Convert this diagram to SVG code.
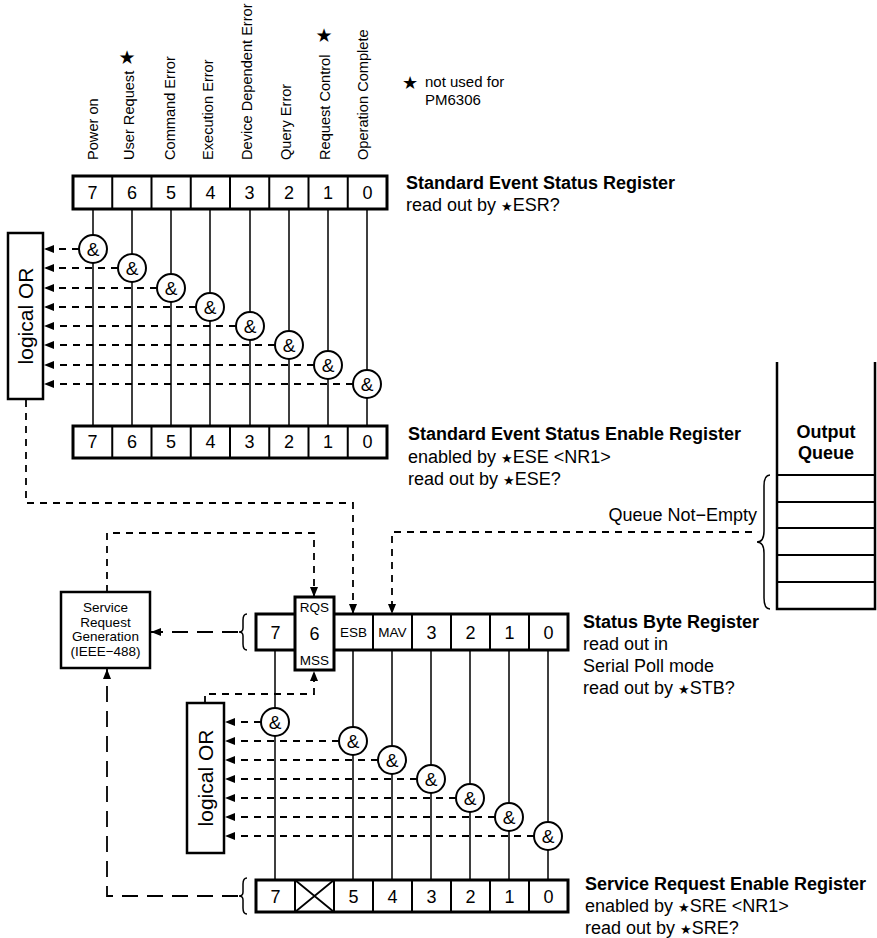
<svg xmlns="http://www.w3.org/2000/svg" width="877" height="938" viewBox="0 0 877 938">
<style>
text{font-family:"Liberation Sans",Arial,sans-serif;fill:#000}
.b{font-weight:bold;font-size:18px}
.r{font-size:18px}
.lab{font-size:14.6px}
.dg{font-size:18px;text-anchor:middle}
.sm{font-size:13.5px;text-anchor:middle}
.amp{font-size:19px;text-anchor:middle}
.st{font-family:"DejaVu Sans",sans-serif}
.reg{fill:#fff;stroke:#000;stroke-width:3}
.dv{stroke:#000;stroke-width:2}
.w{stroke:#000;stroke-width:1.5;fill:none}
.d{stroke:#000;stroke-width:1.8;stroke-dasharray:7 6;fill:none}
.ld{stroke:#000;stroke-width:1.8;stroke-dasharray:16 9;fill:none}
.g{fill:#fff;stroke:#000;stroke-width:2}
.box{fill:#fff;stroke:#000;stroke-width:2.5}
.srg{font-size:13.5px;text-anchor:middle}
</style>
<defs>
<marker id="ah" markerUnits="userSpaceOnUse" markerWidth="10" markerHeight="8" refX="10" refY="4" orient="auto"><path d="M0,0 L10,4 L0,8 z" fill="#000"/></marker>
</defs>

<!-- column labels -->
<g id="labels">
<text class="lab" transform="translate(98,160) rotate(-90)">Power on</text>
<text class="lab" transform="translate(134,160) rotate(-90)">User Request</text>
<text class="lab" transform="translate(175,160) rotate(-90)">Command Error</text>
<text class="lab" transform="translate(213,160) rotate(-90)">Execution Error</text>
<text class="lab" transform="translate(252,160) rotate(-90)">Device Dependent Error</text>
<text class="lab" transform="translate(291,160) rotate(-90)">Query Error</text>
<text class="lab" transform="translate(330,160) rotate(-90)">Request Control</text>
<text class="lab" transform="translate(368,160) rotate(-90)">Operation Complete</text>
<text class="st" x="127" y="64" font-size="19" text-anchor="middle">★</text>
<text class="st" x="324" y="42" font-size="19" text-anchor="middle">★</text>
<text class="st" x="410" y="89" font-size="18" text-anchor="middle">★</text>
<text x="425" y="87" font-size="15">not used for</text>
<text x="425" y="105" font-size="15">PM6306</text>
</g>

<!-- connectors -->
<g id="connectors">
<path class="w" d="M93,209V426 M132,209V426 M171,209V426 M210,209V426 M250,209V426 M289,209V426 M328,209V426 M367,209V426"/>
<path class="d" marker-end="url(#ah)" d="M79,249H44"/>
<path class="d" marker-end="url(#ah)" d="M118,268H44"/>
<path class="d" marker-end="url(#ah)" d="M157,288H44"/>
<path class="d" marker-end="url(#ah)" d="M196,307H44"/>
<path class="d" marker-end="url(#ah)" d="M236,326H44"/>
<path class="d" marker-end="url(#ah)" d="M275,345H44"/>
<path class="d" marker-end="url(#ah)" d="M314,365H44"/>
<path class="d" marker-end="url(#ah)" d="M353,384H44"/>
<path class="d" marker-end="url(#ah)" d="M26,400V503H353V614"/>
<path class="d" marker-end="url(#ah)" d="M107,592V533H314V597"/>
<path class="d" marker-end="url(#ah)" d="M752,532H392V614"/>
<path class="d" marker-end="url(#ah)" d="M205,703V694H314V671"/>
<path class="ld" marker-end="url(#ah)" d="M238,632H151"/>
<path class="ld" marker-end="url(#ah)" d="M238,896H107V669"/>
<path class="w" d="M275,650V880 M353,650V880 M392,650V880 M431,650V880 M470,650V880 M509,650V880 M548,650V880"/>
<path class="d" marker-end="url(#ah)" d="M261,722H225"/>
<path class="d" marker-end="url(#ah)" d="M339,741H225"/>
<path class="d" marker-end="url(#ah)" d="M378,760H225"/>
<path class="d" marker-end="url(#ah)" d="M417,779H225"/>
<path class="d" marker-end="url(#ah)" d="M456,798H225"/>
<path class="d" marker-end="url(#ah)" d="M495,817H225"/>
<path class="d" marker-end="url(#ah)" d="M534,836H225"/>
<path class="w" stroke-width="1.6" d="M770,475 Q764,475 764,486 L764,531 Q764,542 757,542 Q764,542 764,553 L764,598 Q764,609 770,609"/>
<path class="w" stroke-width="1.6" d="M247,614 Q243,614 243,620 L243,628 Q243,632 239,632 Q243,632 243,636 L243,644 Q243,650 247,650"/>
<path class="w" stroke-width="1.6" d="M247,878 Q243,878 243,884 L243,892 Q243,896 239,896 Q243,896 243,900 L243,908 Q243,914 247,914"/>
</g>

<!-- Standard Event Status Register -->
<g id="esr">
<rect class="reg" x="73" y="176" width="314" height="33"/>
<path class="dv" d="M112.25,176V209 M151.5,176V209 M190.75,176V209 M230,176V209 M269.25,176V209 M308.5,176V209 M347.75,176V209"/>
<text class="dg" x="92.6" y="199">7</text><text class="dg" x="131.9" y="199">6</text><text class="dg" x="171.1" y="199">5</text><text class="dg" x="210.4" y="199">4</text><text class="dg" x="249.6" y="199">3</text><text class="dg" x="288.9" y="199">2</text><text class="dg" x="328.1" y="199">1</text><text class="dg" x="367.4" y="199">0</text>
<text class="b" x="406" y="189">Standard Event Status Register</text>
<text class="r" x="406" y="211">read out by <tspan class="st" font-size="13">★</tspan>ESR?</text>
</g>

<!-- top AND gates -->
<g id="esr-gates">
<circle class="g" cx="93" cy="249" r="14"/><text class="amp" x="93" y="256">&amp;</text>
<circle class="g" cx="132" cy="268" r="14"/><text class="amp" x="132" y="275">&amp;</text>
<circle class="g" cx="171" cy="288" r="14"/><text class="amp" x="171" y="295">&amp;</text>
<circle class="g" cx="210" cy="307" r="14"/><text class="amp" x="210" y="314">&amp;</text>
<circle class="g" cx="250" cy="326" r="14"/><text class="amp" x="250" y="333">&amp;</text>
<circle class="g" cx="289" cy="345" r="14"/><text class="amp" x="289" y="352">&amp;</text>
<circle class="g" cx="328" cy="365" r="14"/><text class="amp" x="328" y="372">&amp;</text>
<circle class="g" cx="367" cy="384" r="14"/><text class="amp" x="367" y="391">&amp;</text>
</g>

<!-- top logical OR -->
<g id="or-top">
<rect class="box" x="8" y="233" width="35" height="166"/>
<text font-size="21" text-anchor="middle" transform="translate(33,316) rotate(-90)">logical OR</text>
</g>

<!-- Standard Event Status Enable Register -->
<g id="ese">
<rect class="reg" x="73" y="426" width="314" height="32"/>
<path class="dv" d="M112.25,426V458 M151.5,426V458 M190.75,426V458 M230,426V458 M269.25,426V458 M308.5,426V458 M347.75,426V458"/>
<text class="dg" x="92.6" y="448">7</text><text class="dg" x="131.9" y="448">6</text><text class="dg" x="171.1" y="448">5</text><text class="dg" x="210.4" y="448">4</text><text class="dg" x="249.6" y="448">3</text><text class="dg" x="288.9" y="448">2</text><text class="dg" x="328.1" y="448">1</text><text class="dg" x="367.4" y="448">0</text>
<text class="b" x="408" y="440">Standard Event Status Enable Register</text>
<text class="r" x="408" y="463">enabled by <tspan class="st" font-size="13">★</tspan>ESE &lt;NR1&gt;</text>
<text class="r" x="408" y="485">read out by <tspan class="st" font-size="13">★</tspan>ESE?</text>
</g>

<!-- Output Queue -->
<g id="output-queue">
<path stroke="#000" stroke-width="2.5" fill="none" d="M777,362V609H875V362"/>
<path stroke="#000" stroke-width="1.8" d="M777,475H875 M777,502H875 M777,528H875 M777,555H875 M777,582H875"/>
<text class="b" x="826" y="438" text-anchor="middle">Output</text>
<text class="b" x="826" y="459" text-anchor="middle">Queue</text>
<text class="r" x="757" y="521" text-anchor="end">Queue Not−Empty</text>
</g>

<!-- Service Request Generation -->
<g id="srg">
<rect class="box" x="61" y="592" width="89" height="76"/>
<text class="srg" x="105.5" y="612">Service</text>
<text class="srg" x="105.5" y="626.5">Request</text>
<text class="srg" x="105.5" y="641">Generation</text>
<text class="srg" x="105.5" y="655.5">(IEEE−488)</text>
</g>

<!-- Status Byte Register -->
<g id="stb">
<rect class="reg" x="256" y="614" width="312" height="36"/>
<path class="dv" d="M334,614V650 M373,614V650 M412,614V650 M451,614V650 M490,614V650 M529,614V650"/>
<rect class="reg" x="295" y="597" width="39" height="73"/>
<text class="dg" x="275.5" y="639">7</text>
<text class="sm" x="314.5" y="612">RQS</text>
<text class="dg" x="314.5" y="640">6</text>
<text class="sm" x="314.5" y="665">MSS</text>
<text class="sm" x="353.5" y="637">ESB</text>
<text class="sm" x="392.5" y="637">MAV</text>
<text class="dg" x="431.5" y="639">3</text><text class="dg" x="470.5" y="639">2</text><text class="dg" x="509.5" y="639">1</text><text class="dg" x="548.5" y="639">0</text>
<text class="b" x="583" y="628">Status Byte Register</text>
<text class="r" x="583" y="650">read out in</text>
<text class="r" x="583" y="672">Serial Poll mode</text>
<text class="r" x="583" y="694">read out by <tspan class="st" font-size="13">★</tspan>STB?</text>
</g>

<!-- lower AND gates -->
<g id="stb-gates">
<circle class="g" cx="275" cy="722" r="14"/><text class="amp" x="275" y="729">&amp;</text>
<circle class="g" cx="353" cy="741" r="14"/><text class="amp" x="353" y="748">&amp;</text>
<circle class="g" cx="392" cy="760" r="14"/><text class="amp" x="392" y="767">&amp;</text>
<circle class="g" cx="431" cy="779" r="14"/><text class="amp" x="431" y="786">&amp;</text>
<circle class="g" cx="470" cy="798" r="14"/><text class="amp" x="470" y="805">&amp;</text>
<circle class="g" cx="509" cy="817" r="14"/><text class="amp" x="509" y="824">&amp;</text>
<circle class="g" cx="548" cy="836" r="14"/><text class="amp" x="548" y="843">&amp;</text>
</g>

<!-- lower logical OR -->
<g id="or-bottom">
<rect class="box" x="187" y="703" width="37" height="150"/>
<text font-size="21" text-anchor="middle" transform="translate(213,778) rotate(-90)">logical OR</text>
</g>

<!-- Service Request Enable Register -->
<g id="sre">
<rect class="reg" x="256" y="880" width="312" height="32"/>
<path class="dv" d="M295,880V912 M334,880V912 M373,880V912 M412,880V912 M451,880V912 M490,880V912 M529,880V912"/>
<path stroke="#000" stroke-width="1.8" d="M295,880L334,912 M334,880L295,912"/>
<text class="dg" x="275.5" y="903">7</text><text class="dg" x="353.5" y="903">5</text><text class="dg" x="392.5" y="903">4</text><text class="dg" x="431.5" y="903">3</text><text class="dg" x="470.5" y="903">2</text><text class="dg" x="509.5" y="903">1</text><text class="dg" x="548.5" y="903">0</text>
<text class="b" x="585" y="890">Service Request Enable Register</text>
<text class="r" x="585" y="912">enabled by <tspan class="st" font-size="13">★</tspan>SRE &lt;NR1&gt;</text>
<text class="r" x="585" y="934">read out by <tspan class="st" font-size="13">★</tspan>SRE?</text>
</g>
</svg>
